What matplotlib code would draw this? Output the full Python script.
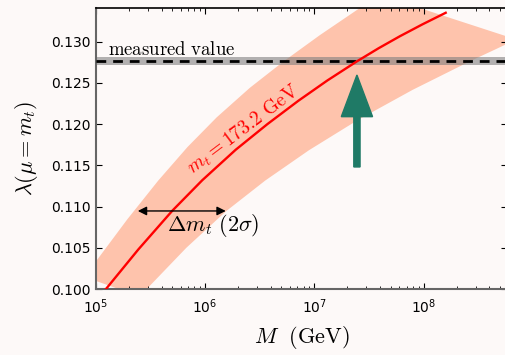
import numpy as np
import matplotlib
matplotlib.use("Agg")
import matplotlib.pyplot as plt

plt.rcParams['mathtext.fontset'] = 'cm'
plt.rcParams['font.family'] = 'DejaVu Sans'

# central curve, m_t = 173.2 GeV (log10 M, lambda)
logM_c = [5.094, 5.39, 5.701, 5.975, 6.281, 6.57, 6.854, 7.12, 7.388, 7.59, 7.784, 7.99, 8.202]
lam_c = [0.1000, 0.1048, 0.1095, 0.1132, 0.1169, 0.1200, 0.12284, 0.12531, 0.12761,
         0.12923, 0.13068, 0.13212, 0.13352]

# 2 sigma band edges
logM_up = [4.9, 5.0, 5.29, 5.573, 5.84, 6.107, 6.41, 6.714, 7.05, 7.39, 7.60]
lam_up = [0.10146, 0.10331, 0.10847, 0.11317, 0.11723, 0.12083, 0.12441, 0.12757,
          0.13080, 0.13386, 0.13567]
logM_lo = [5.40, 5.467, 5.83, 6.192, 6.55, 6.95, 7.4, 7.9, 8.425, 8.755, 8.85]
lam_lo = [0.0991, 0.1000, 0.10501, 0.10943, 0.11315, 0.11683, 0.12052, 0.12417,
          0.12764, 0.12969, 0.13027]

# measured value of lambda
lam_meas = 0.1277
lam_meas_err = 0.0005

bg = '#fdf9f8'
fig = plt.figure(figsize=(5.06, 3.55), dpi=100)
fig.patch.set_facecolor(bg)
ax = fig.add_axes([95.7/506, 66/355, (507-95.7)/506, 281/355])
ax.set_facecolor(bg)

# band
poly_x = [10**v for v in logM_up] + [10**v for v in logM_lo[::-1]]
poly_y = lam_up + lam_lo[::-1]
ax.fill(poly_x, poly_y, color='#ffa07a', alpha=0.6, lw=0, zorder=1)

# measured value
ax.axhspan(lam_meas - lam_meas_err, lam_meas + lam_meas_err, color='gray', alpha=0.6, lw=0, zorder=2)
ax.axhline(lam_meas, color='k', ls=(0, (3.5, 2.5)), lw=2, zorder=3)

# central curve
ax.plot([10**v for v in logM_c], lam_c, color='red', lw=1.7, zorder=4)

ax.set_xscale('log')
ax.set_xlim(1e5, 10**8.763)
ax.set_ylim(0.100, 0.1341)
ax.set_yticks(np.arange(0.100, 0.1301, 0.005))
ax.yaxis.set_major_formatter(matplotlib.ticker.FormatStrFormatter('%.3f'))

ax.tick_params(which='both', direction='in', top=True, right=True, labelsize=10)
ax.tick_params(which='major', length=4, width=0.8)
ax.tick_params(which='minor', length=2, width=0.6)
ax.tick_params(axis='x', which='major', pad=6)
for s in ['left', 'bottom']:
    ax.spines[s].set_color('#666666')
    ax.spines[s].set_linewidth(1.5)
ax.spines['top'].set_linewidth(1.2)

ax.set_xlabel(r'$M\ \ \mathrm{(GeV)}$', fontsize=16, labelpad=6)
ax.set_ylabel(r'$\lambda(\mu=m_t)$', fontsize=16, labelpad=8)

# annotations
ax.text(10**5.113, 0.12839, r'$\mathrm{measured\ value}$', fontsize=13.5, va='baseline', ha='left', zorder=5)
ax.text(10**6.35, 0.11930, r'$m_t=173.2\ \mathrm{GeV}$', color='red', fontsize=14,
        rotation=37, ha='center', va='center', rotation_mode='anchor', zorder=5)

ax.annotate('', xy=(10**5.385, 0.10947), xytext=(10**6.19, 0.10947),
            arrowprops=dict(arrowstyle='<|-|>', color='k', lw=1.0, mutation_scale=13,
                            shrinkA=0, shrinkB=0), zorder=5)
ax.text(10**5.65, 0.1070, r'$\Delta m_t\ (2\sigma)$', fontsize=16, va='baseline', ha='left', zorder=5)

ax.annotate('', xy=(10**7.39, 0.12597), xytext=(10**7.39, 0.11481),
            arrowprops=dict(arrowstyle='simple,head_length=3.0,head_width=2.25,tail_width=0.45',
                            color='#1f7a66', mutation_scale=10, shrinkA=0, shrinkB=0,
                            capstyle='round', joinstyle='miter'), zorder=6)

fig.savefig('out.png', dpi=100, facecolor=bg)
